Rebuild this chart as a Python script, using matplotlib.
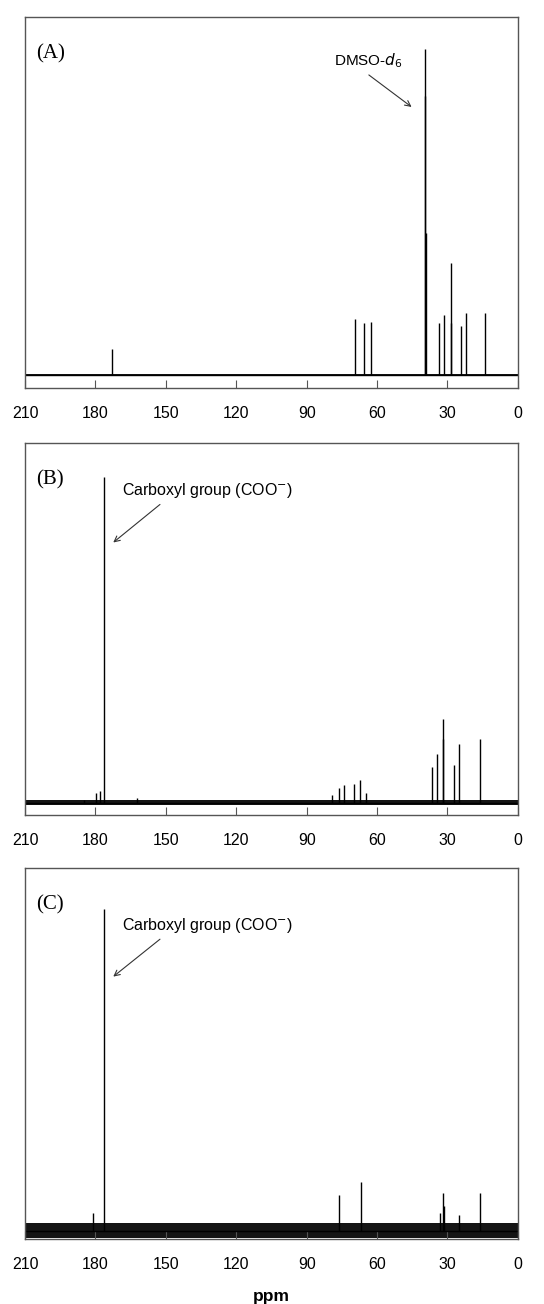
#!/usr/bin/env python3
"""13C NMR spectra (A)-(C): stick peaks drawn from peak tables."""

import matplotlib
matplotlib.use('Agg')
import matplotlib.pyplot as plt

# peak tables: chemical shift (ppm) and intensity (arbitrary units)
ppm_a = [173.0, 69.2, 65.5, 62.6, 39.7, 39.5, 39.3, 33.6, 31.4, 28.7, 28.4, 24.3, 22.0, 13.8]
int_a = [26, 56, 52, 53, 279, 326, 142, 52, 60, 112, 52, 49, 62, 62]

ppm_b = [185.0, 179.9, 178.2, 176.2, 162.4, 79.3, 76.3, 74.0, 69.9, 67.2, 64.9,
         36.8, 34.4, 32.1, 31.8, 27.4, 24.9, 16.2]
int_b = [3, 10, 12, 325, 5, 8, 15, 18, 19, 23, 10,
         36, 49, 84, 64, 38, 59, 64]

ppm_c = [181.0, 176.2, 76.1, 67.0, 33.3, 31.8, 31.3, 24.9, 16.0]
int_c = [18, 322, 36, 49, 18, 38, 25, 16, 38]

# baseline noise half-width per spectrum
noise = {'A': 0.8, 'B': 2.6, 'C': 7.5}

TICKS = [210, 180, 150, 120, 90, 60, 30, 0]
SANS = 'Liberation Sans'
SERIF = 'Liberation Serif'
ARROW = dict(arrowstyle='->', color='#333333', lw=0.8, shrinkA=0, shrinkB=0)


def draw_spectrum(ax, ppm, inten, tag, ylim):
    n = noise[tag]
    ax.fill_between([210, 0], [-n, -n], [n, n], color='#151515', lw=0)
    ax.plot([210, 0], [0, 0], color='black', lw=1.0)
    ax.vlines(ppm, 0, inten, color='black', lw=1.0)
    ax.set_xlim(210, 0)
    ax.set_ylim(*ylim)
    ax.set_yticks([])
    ax.set_xticks(TICKS)
    ax.set_xticklabels([str(t) for t in TICKS], fontfamily=SANS, fontsize=11.5)
    ax.tick_params(axis='x', direction='in', length=6, width=0.8,
                   color='#555555', pad=13)
    for sp in ax.spines.values():
        sp.set_color('#555555')
        sp.set_linewidth(1.0)
    ax.text(0.023, 0.9, f'({tag})', transform=ax.transAxes,
            fontfamily=SERIF, fontsize=15, va='center', ha='left')


fig = plt.figure(figsize=(5.44, 13.04), dpi=100)
ax_a = fig.add_axes([0.046, 0.7025, 0.906, 0.2845])
ax_b = fig.add_axes([0.046, 0.375, 0.906, 0.2855])
ax_c = fig.add_axes([0.046, 0.0499, 0.906, 0.2843])

draw_spectrum(ax_a, ppm_a, int_a, 'A', (-13, 358))
draw_spectrum(ax_b, ppm_b, int_b, 'B', (-12.3, 359.7))
draw_spectrum(ax_c, ppm_c, int_c, 'C', (-8, 362.7))

ax_a.text(63.9, 314, r'DMSO-$\it{d}_6$', fontfamily=SANS, fontsize=11,
          ha='center', va='center')
ax_a.annotate('', xy=(45.3, 268), xytext=(63.5, 300), arrowprops=ARROW)

for ax, ty, y0, y1 in ((ax_b, 311.6, 298, 260), (ax_c, 305, 291.7, 254.3)):
    ax.text(132.3, ty, r'Carboxyl group (COO$^{-}$)', fontfamily=SANS,
            fontsize=11.5, ha='center', va='center')
    ax.annotate('', xy=(172.4, y1), xytext=(152.5, y0), arrowprops=ARROW)

ax_c.set_xlabel('ppm', fontfamily=SANS, fontsize=12.5, fontweight='bold', labelpad=12)

fig.savefig('out.png', dpi=100)
